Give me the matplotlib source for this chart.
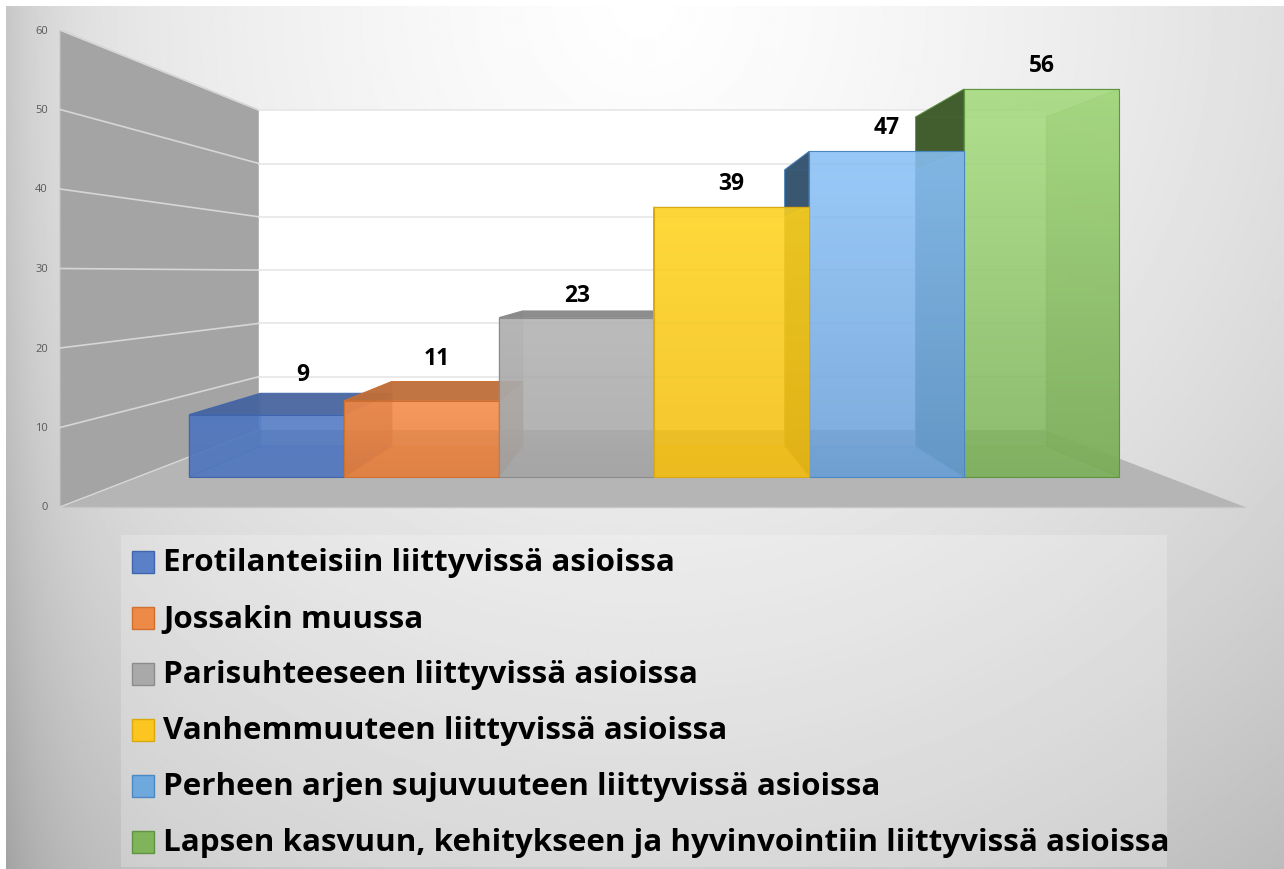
# 3D style column chart, drawn on a flat axes with a small perspective helper
import numpy as np
import matplotlib
matplotlib.use('Agg')
import matplotlib.pyplot as plt
from matplotlib.patches import Polygon
from matplotlib.colors import to_rgb

# Data
categories = [
    'Erotilanteisiin liittyvissä asioissa',
    'Jossakin muussa',
    'Parisuhteeseen liittyvissä asioissa',
    'Vanhemmuuteen liittyvissä asioissa',
    'Perheen arjen sujuvuuteen liittyvissä asioissa',
    'Lapsen kasvuun, kehitykseen ja hyvinvointiin liittyvissä asioissa',
]
values = [9, 11, 23, 39, 47, 56]
ticks = [0, 10, 20, 30, 40, 50, 60]

# Colours: legend swatch, edge, front face top and bottom
swatch = ['#5a80c8', '#ee8a48', '#a9a9a9', '#fdc51f', '#6fa8dc', '#7fb45a']
edges = ['#3f66ad', '#d0702f', '#8c8c8c', '#d9a90f', '#4a88c4', '#5f9440']
front_top = ['#4f78c4', '#f58a46', '#b2b2b2', '#ffd41e', '#8cc3f8', '#a6dd7e']
front_bot = ['#4e76be', '#e47d3a', '#a6a6a6', '#f3bd10', '#6a9fd6', '#7cb159']
# label nudges in pixels
label_dx = [6, -3, -5, 0, 0, 0]
label_dy = [-19, -23, -16, -24, -24, -24]
# eye level value is the same for all bars, top face flips there
EYE_VALUE = 30

W, H = 1284, 869
# perspective planes: depth 0 is the front of the floor, depth 1 is the back wall
FRONT = dict(x0=60, x1=1245, y0=507, scale=7.95)
BACK = dict(x0=259, x1=1045, y0=430, scale=5.33)
BAR_DEPTH = (0.39, 0.79)
BAR_SPAN = (0.05, 0.9535)


def project(u, v, d):
    x0 = FRONT['x0'] + (BACK['x0'] - FRONT['x0']) * d
    x1 = FRONT['x1'] + (BACK['x1'] - FRONT['x1']) * d
    y0 = FRONT['y0'] + (BACK['y0'] - FRONT['y0']) * d
    s = FRONT['scale'] + (BACK['scale'] - FRONT['scale']) * d
    return x0 + (x1 - x0) * u, y0 - s * v


def shade(c, f):
    return tuple(np.array(to_rgb(c)) * f)


fig = plt.figure(figsize=(W / 100, H / 100), dpi=100)
ax = fig.add_axes([0, 0, 1, 1])
ax.set_xlim(0, W)
ax.set_ylim(H, 0)
ax.axis('off')

# Background gradient, gets darker away from the top centre and at the left edge
yy, xx = np.mgrid[0:H, 0:W]
r = np.hypot(xx - 640, yy)
bg = 255 - 0.03 * r - 0.00003 * r ** 2 - 25 * np.exp(-xx / 50)
bg = np.clip(bg, 0, 255) / 255
ax.imshow(bg, cmap='gray', vmin=0, vmax=1, extent=[6, W, H, 6], aspect='auto', zorder=0)
ax.set_xlim(0, W)
ax.set_ylim(H, 0)

# Walls and floor
top = max(ticks)
wall = [project(0, 0, 0), project(0, top, 0), project(0, top, 1), project(0, 0, 1)]
ax.add_patch(Polygon(wall, fc='#a4a4a4', ec='#c4c4c4', lw=0.8, zorder=1))
back = [project(0, 0, 1), project(0, top, 1), project(1, top, 1), project(1, 0, 1)]
ax.add_patch(Polygon(back, fc='white', ec='none', zorder=1))
floor = [project(0, 0, 0), project(1, 0, 0), project(1, 0, 1), project(0, 0, 1)]
ax.add_patch(Polygon(floor, fc='#b5b5b5', ec='none', zorder=1))
ax.plot(*zip(project(0, 0, 0), project(1, 0, 0)), color='#c6c6c6', lw=1, zorder=1)
ax.plot(*zip(project(0, 0, 0), project(0, 0, 1)), color='#d6d6d6', lw=1, zorder=1)

# Gridlines and tick labels
for t in ticks:
    if t > 0:
        a, b, c = project(0, t, 0), project(0, t, 1), project(1, t, 1)
        ax.plot([a[0], b[0]], [a[1], b[1]], color='#d6d6d6', lw=1.2, zorder=2)
        ax.plot([b[0], c[0]], [b[1], c[1]], color='#e6e6e6', lw=1.2, zorder=2)
    x, y = project(0, t, 0)
    ax.text(x - 12, y + 1, str(t), ha='right', va='center', fontsize=8,
            color='#595959', family='Open Sans', zorder=3)


def gradient_face(pts, c_top, c_bot, alpha, z):
    pts = np.array(pts)
    grad = np.linspace(0, 1, 256)[:, None, None]
    rgb = np.array(to_rgb(c_top)) * (1 - grad) + np.array(to_rgb(c_bot)) * grad
    rgba = np.dstack([rgb, np.full((256, 1), alpha)])
    ext = [pts[:, 0].min(), pts[:, 0].max(), pts[:, 1].max(), pts[:, 1].min()]
    im = ax.imshow(rgba, extent=ext, aspect='auto', zorder=z, interpolation='bilinear')
    im.set_clip_path(Polygon(pts, transform=ax.transData))


# Bars: outer bars first, the ones nearest the centre on top
slot = (BAR_SPAN[1] - BAR_SPAN[0]) / len(values)
order = [0, 1, 2, 5, 4, 3]
for n, i in enumerate(order):
    u0 = BAR_SPAN[0] + slot * i
    u1 = u0 + slot
    v = values[i]
    d0, d1 = BAR_DEPTH
    z = 4 + n * 0.1
    base = swatch[i]
    ec = edges[i]
    tall = v > EYE_VALUE
    fbl, fbr = project(u0, 0, d0), project(u1, 0, d0)
    ftl, ftr = project(u0, v, d0), project(u1, v, d0)
    bbl, bbr = project(u0, 0, d1), project(u1, 0, d1)
    btl, btr = project(u0, v, d1), project(u1, v, d1)
    ax.add_patch(Polygon([bbl, btl, btr, bbr], fc=base, ec=ec, lw=0.7, alpha=0.1, zorder=z))
    ax.add_patch(Polygon([fbl, fbr, bbr, bbl], fc=shade(base, 0.9), ec=ec, lw=0.7, alpha=0.35, zorder=z))
    ax.add_patch(Polygon([fbr, ftr, btr, bbr], fc=shade(base, 0.7), ec=ec, lw=0.7, alpha=0.5, zorder=z))
    ax.add_patch(Polygon([fbl, ftl, btl, bbl], fc=shade(base, 0.52 if tall else 0.7), ec=ec, lw=0.7,
                         alpha=1.0 if tall else 0.35, zorder=z))
    ax.add_patch(Polygon([ftl, ftr, btr, btl], fc=shade(base, 0.55 if tall else 0.8), ec=ec, lw=0.7,
                         alpha=0.15 if tall else 0.95, zorder=z))
    gradient_face([fbl, ftl, ftr, fbr], front_top[i], front_bot[i], 0.86, z + 0.01)
    ax.add_patch(Polygon([fbl, ftl, ftr, fbr], fc='none', ec=ec, lw=0.8, zorder=z + 0.02))

    # value label
    fx = (ftl[0] + ftr[0]) / 2
    mx = (ftl[0] + ftr[0] + btl[0] + btr[0]) / 4
    lx = fx if tall else mx
    ly = min(ftl[1], btl[1]) + label_dy[i]
    ax.text(lx + label_dx[i], ly + 1, str(v), ha='center', va='center', fontsize=16.5, fontweight='bold',
            color='black', family='Open Sans', zorder=9)

# Legend box and entries
ax.add_patch(plt.Rectangle((121, 535), 1046, 332, fc='white', ec='none', alpha=0.22, zorder=5))
row_y = [562, 618, 674, 730, 786, 842]
for name, y, c, ec in zip(categories, row_y, swatch, edges):
    ax.add_patch(plt.Rectangle((132, y - 11), 22, 22, fc=c, ec=ec, lw=1, zorder=6))
    ax.text(163, y + 1.5, name, ha='left', va='center', fontsize=22.6, fontweight='bold',
            color='black', family='Open Sans', zorder=6)

ax.set_xlim(0, W)
ax.set_ylim(H, 0)
fig.savefig('out.png', dpi=100, facecolor='white')
